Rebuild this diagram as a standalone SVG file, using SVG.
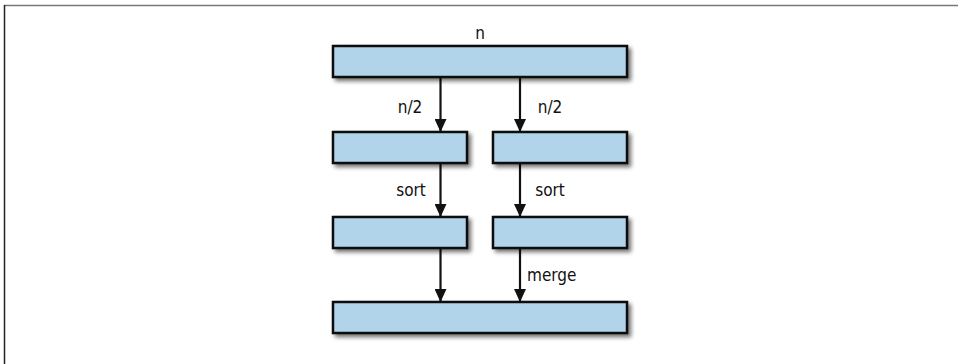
<svg xmlns="http://www.w3.org/2000/svg" width="958" height="364" viewBox="0 0 958 364">
<style>
.box{fill:#b2d4ea;stroke:#111;stroke-width:2.5}
.lbl{font-family:"DejaVu Sans Condensed","Liberation Sans",sans-serif;font-size:17px;fill:#111}
.con{stroke:#111;stroke-width:2.2;fill:none}
</style>
<defs>
<filter id="sh" x="-10%" y="-30%" width="130%" height="180%">
<feGaussianBlur in="SourceAlpha" stdDeviation="2"/>
<feOffset dx="3" dy="3" result="b"/>
<feComponentTransfer><feFuncA type="linear" slope="0.55"/></feComponentTransfer>
<feMerge><feMergeNode/><feMergeNode in="SourceGraphic"/></feMerge>
</filter>
<marker id="ah" viewBox="0 0 13 12" refX="13" refY="6" markerWidth="13" markerHeight="12" markerUnits="userSpaceOnUse" orient="auto">
<path d="M0,0 L13,6 L0,12 Z" fill="#111"/>
</marker>
</defs>
<g id="frame">
<line x1="4" y1="5.5" x2="958" y2="5.5" stroke="#777" stroke-width="1.5"/>
<line x1="4.5" y1="5" x2="4.5" y2="364" stroke="#222" stroke-width="1.5"/>
</g>
<g id="connectors">
<line class="con" x1="440.5" y1="78" x2="440.5" y2="132" marker-end="url(#ah)"/>
<line class="con" x1="520" y1="78" x2="520" y2="132" marker-end="url(#ah)"/>
<line class="con" x1="440.5" y1="164" x2="440.5" y2="217" marker-end="url(#ah)"/>
<line class="con" x1="520" y1="164" x2="520" y2="217" marker-end="url(#ah)"/>
<line class="con" x1="440.5" y1="249" x2="440.5" y2="302" marker-end="url(#ah)"/>
<line class="con" x1="520" y1="249" x2="520" y2="302" marker-end="url(#ah)"/>
<text class="lbl" x="410" y="113" text-anchor="middle">n/2</text>
<text class="lbl" x="550" y="113" text-anchor="middle">n/2</text>
<text class="lbl" x="411" y="196" text-anchor="middle">sort</text>
<text class="lbl" x="550" y="196" text-anchor="middle">sort</text>
<text class="lbl" x="527" y="281">merge</text>
</g>
<g id="top">
<rect class="box" x="333" y="46" width="294" height="31" filter="url(#sh)"/>
<text class="lbl" x="480" y="39" text-anchor="middle">n</text>
</g>
<g id="half-left"><rect class="box" x="333" y="132" width="134" height="31" filter="url(#sh)"/></g>
<g id="half-right"><rect class="box" x="493" y="132" width="134" height="31" filter="url(#sh)"/></g>
<g id="sorted-left"><rect class="box" x="333" y="217" width="134" height="31" filter="url(#sh)"/></g>
<g id="sorted-right"><rect class="box" x="493" y="217" width="134" height="31" filter="url(#sh)"/></g>
<g id="merged"><rect class="box" x="333" y="302" width="294" height="31" filter="url(#sh)"/></g>
</svg>
